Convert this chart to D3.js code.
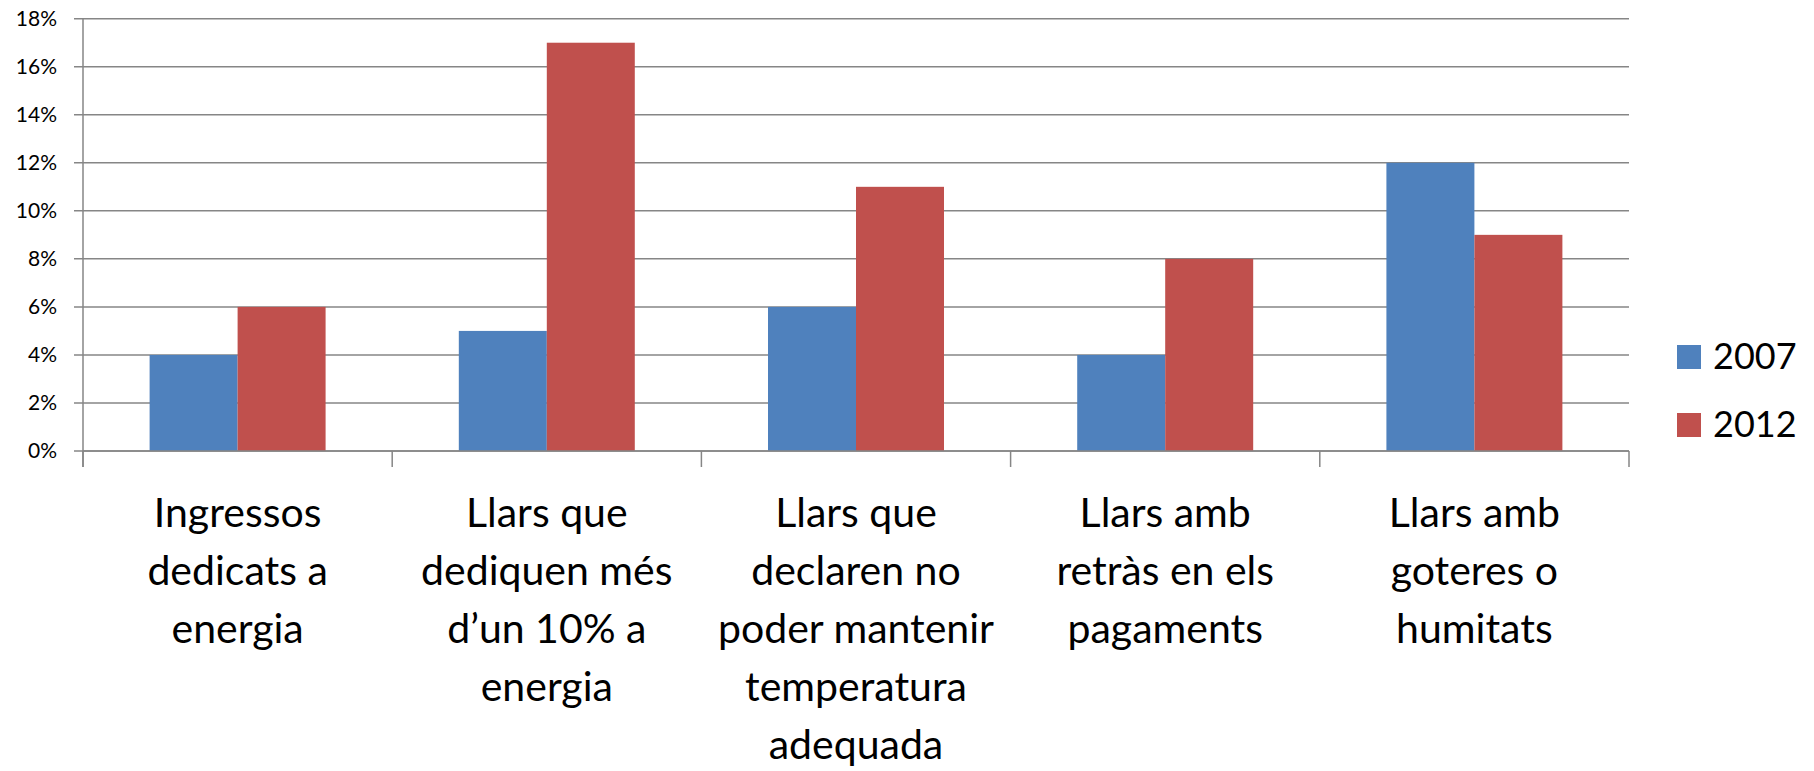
<!DOCTYPE html>
<html><head><meta charset="utf-8">
<script src="https://cdn.jsdelivr.net/npm/d3@7"></script>
<style>body{margin:0;background:#fff}svg{display:block}text{font-family:Lato,"Open Sans",sans-serif}</style>
</head><body>
<svg id="c" width="1814" height="771"></svg>
<script>
const categories = [
  ["Ingressos","dedicats a","energia"],
  ["Llars que","dediquen més","d’un 10% a","energia"],
  ["Llars que","declaren no","poder mantenir","temperatura","adequada"],
  ["Llars amb","retràs en els","pagaments"],
  ["Llars amb","goteres o","humitats"]
];
const seriesNames = ["2007","2012"];
const values2007 = [4,5,6,4,12];
const values2012 = [6,17,11,8,9];
const yTicks = [0,2,4,6,8,10,12,14,16,18];
const colors = ["#4F81BD","#C0504D"];

(function(){
const svg = d3.select("#c");
const pL = 83, pR = 1629, pT = 18.7, pB = 451;
const x = d3.scaleBand().domain(d3.range(categories.length)).range([pL,pR]).paddingInner(0).paddingOuter(0);
const y = d3.scaleLinear().domain([0,18]).range([pB,pT]);
const inner = d3.scaleBand().domain([0,1]).range([0,x.bandwidth()]).paddingOuter(0.757).paddingInner(0);

svg.append("g").selectAll("line").data(yTicks).join("line")
  .attr("x1",pL-9).attr("x2",pR).attr("y1",d=>y(d)).attr("y2",d=>y(d))
  .attr("stroke","#868686").attr("stroke-width",1.5);

const series = [values2007, values2012];
series.forEach((vals,si)=>{
  svg.append("g").selectAll("rect").data(vals).join("rect")
    .attr("x",(d,i)=>x(i)+inner(si)).attr("width",inner.bandwidth())
    .attr("y",d=>y(d)).attr("height",d=>y(0)-y(d)).attr("fill",colors[si]);
});

const yAxis = d3.axisLeft(y).tickValues(yTicks).tickFormat(d=>d+"%").tickSize(0).tickPadding(26);
const yg = svg.append("g").attr("transform",`translate(${pL},0)`).call(yAxis);
yg.select(".domain").remove();
yg.selectAll("text").attr("font-size",21).attr("fill","#000").style("font-family","Lato");
svg.append("line").attr("x1",pL).attr("x2",pL).attr("y1",pT).attr("y2",467).attr("stroke","#868686").attr("stroke-width",1.5);

svg.append("line").attr("x1",pL).attr("x2",pR).attr("y1",pB).attr("y2",pB).attr("stroke","#868686").attr("stroke-width",1.5);
const bounds = d3.range(categories.length+1).map(i=> i<categories.length ? x(i) : pR);
svg.append("g").selectAll("line").data(bounds).join("line")
  .attr("x1",d=>d).attr("x2",d=>d).attr("y1",pB).attr("y2",467)
  .attr("stroke","#868686").attr("stroke-width",1.5);

const lab = svg.append("g").selectAll("text").data(categories).join("text")
  .attr("text-anchor","middle").attr("font-size",41).attr("fill","#000")
  .attr("transform",(d,i)=>`translate(${x(i)+x.bandwidth()/2},527)`);
lab.selectAll("tspan").data(d=>d).join("tspan").attr("x",0).attr("dy",(d,j)=>j===0?0:58).text(d=>d);

const lg = svg.append("g").selectAll("g").data(seriesNames).join("g")
  .attr("transform",(d,i)=>`translate(1677,${345+i*68})`);
lg.append("rect").attr("width",24).attr("height",24).attr("fill",(d,i)=>colors[i]);
lg.append("text").attr("x",36).attr("y",24).attr("font-size",36).attr("fill","#000").text(d=>d);
})();
</script>
</body></html>
